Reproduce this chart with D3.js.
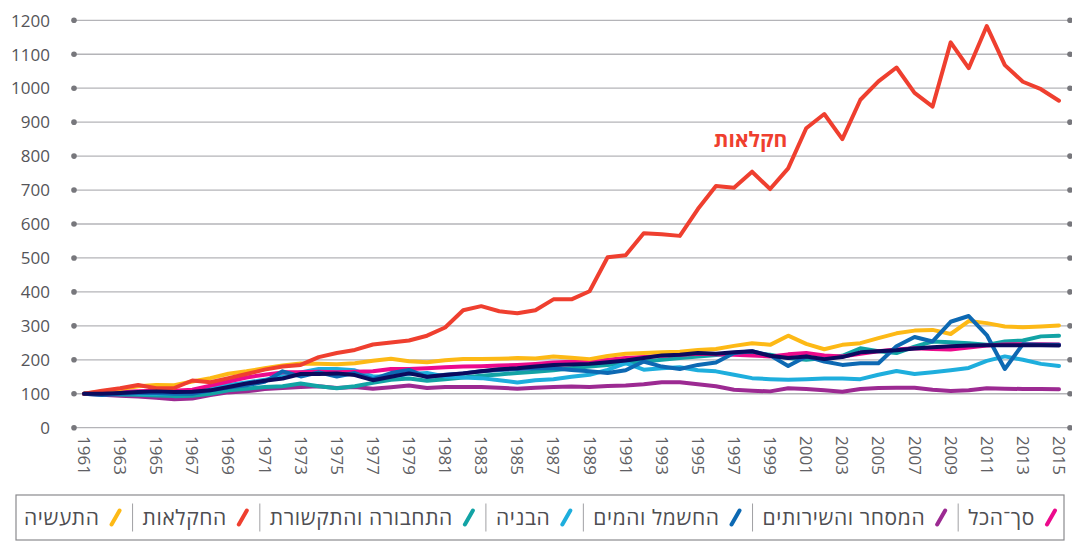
<!DOCTYPE html>
<html lang="he">
<head>
<meta charset="utf-8">
<script src="https://cdn.jsdelivr.net/npm/d3@7/dist/d3.min.js"></script>
<style>
  html, body { margin: 0; padding: 0; background: #fff; }
  svg { display: block; font-family: "Open Sans", "Liberation Sans", "DejaVu Sans", sans-serif; }
</style>
</head>
<body>
<svg id="chart" width="1072" height="545"></svg>
<script>
// Index of output by industry, 1961 = 100
const years = d3.range(1961, 2016);
const yTicks = [0, 100, 200, 300, 400, 500, 600, 700, 800, 900, 1000, 1100, 1200];

const agriculture = [100, 109, 116, 126, 116, 117, 139, 134, 146, 158,
  171, 180, 185, 208, 220, 229, 245, 251, 257, 271,
  295, 346, 358, 343, 337, 346, 378, 378, 402, 502,
  508, 573, 570, 565, 644, 712, 707, 754, 703, 764,
  882, 924, 850, 966, 1020, 1061, 986, 946, 1135, 1059,
  1183, 1068, 1019, 997, 963];
const industry = [100, 107, 114, 122, 126, 125, 136, 146, 159, 166,
  175, 183, 189, 188, 187, 190, 197, 203, 196, 193,
  199, 202, 202, 203, 205, 204, 210, 206, 202, 211,
  218, 220, 222, 224, 229, 232, 241, 249, 244, 271,
  247, 231, 244, 249, 264, 278, 286, 288, 276, 314,
  308, 298, 296, 298, 301];
const total = [100, 104, 106, 107, 109, 109, 112, 124, 136, 148,
  156, 163, 163, 165, 163, 165, 166, 173, 173, 175,
  178, 180, 181, 183, 185, 188, 192, 194, 195, 200,
  205, 208, 212, 215, 218, 216, 215, 213, 210, 216,
  220, 213, 210, 218, 225, 230, 234, 232, 230, 236,
  242, 245, 246, 246, 245];
const trade = [100, 97, 94, 92, 88, 84, 86, 96, 104, 107,
  114, 117, 120, 122, 117, 120, 115, 119, 124, 117,
  120, 120, 120, 118, 115, 118, 120, 121, 120, 123,
  124, 128, 134, 134, 128, 122, 112, 109, 107, 116,
  114, 110, 106, 114, 117, 118, 118, 112, 108, 110,
  116, 115, 114, 114, 113];
const construction = [100, 100, 102, 101, 100, 100, 104, 117, 126, 133,
  141, 153, 163, 173, 173, 169, 151, 151, 158, 161,
  151, 148, 146, 140, 133, 140, 143, 150, 156, 170,
  190, 171, 175, 178, 169, 166, 156, 146, 143, 141,
  143, 145, 145, 143, 156, 167, 158, 163, 169, 176,
  197, 210, 200, 188, 182];
const electricity = [100, 96, 100, 102, 102, 100, 100, 110, 118, 125,
  135, 166, 151, 163, 151, 161, 143, 161, 170, 149,
  156, 160, 166, 170, 173, 175, 175, 170, 166, 161,
  169, 195, 180, 173, 185, 192, 220, 225, 213, 182,
  210, 195, 185, 190, 190, 240, 267, 254, 312, 329,
  273, 173, 246, 244, 244];
const transport = [100, 100, 98, 97, 95, 93, 94, 100, 110, 115,
  120, 122, 130, 122, 116, 122, 132, 141, 145, 138,
  143, 148, 153, 157, 161, 165, 169, 175, 180, 185,
  190, 195, 200, 205, 210, 214, 218, 218, 215, 205,
  200, 205, 212, 234, 225, 220, 239, 254, 252, 249,
  244, 254, 257, 269, 271];
const business = [100, 100, 102, 105, 107, 105, 106, 110, 120, 130,
  138, 145, 158, 158, 160, 155, 140, 150, 160, 150,
  155, 160, 166, 172, 175, 180, 185, 186, 188, 193,
  198, 205, 213, 215, 220, 218, 222, 225, 212, 205,
  210, 202, 208, 222, 225, 228, 233, 237, 240, 242,
  243, 243, 243, 243, 242];

// drawing order: later series sit on top
const series = [
  { name: "המסחר והשירותים", values: trade, color: "#9c2a92" },
  { name: "התחבורה והתקשורת", values: transport, color: "#12a3a5" },
  { name: "הבניה", values: construction, color: "#1eaedd" },
  { name: "סך־הכל", values: total, color: "#ec0a8c" },
  { name: "התעשיה", values: industry, color: "#fdb916" },
  { name: "החשמל והמים", values: electricity, color: "#0d69b3" },
  { name: "החקלאות", values: agriculture, color: "#ef3f2f" },
  { name: "שירותים עסקיים", values: business, color: "#0b0b5e" }
];
// legend order, right to left
const legendOrder = ["סך־הכל", "המסחר והשירותים", "החשמל והמים", "הבניה",
  "התחבורה והתקשורת", "החקלאות", "התעשיה"];

const svg = d3.select("#chart");
const x = d3.scaleLinear().domain([1961, 2015]).range([84, 1059]);
const y = d3.scaleLinear().domain([0, 1200]).range([427.7, 20.3]);
const gridLeft = 74, gridRight = 1070;

// horizontal gridlines with end dots
const grid = svg.append("g");
yTicks.forEach(t => {
  grid.append("line")
    .attr("x1", gridLeft).attr("x2", gridRight)
    .attr("y1", y(t)).attr("y2", y(t))
    .attr("stroke", "#b4b4b8").attr("stroke-width", 1.3);
  [gridLeft, gridRight].forEach(cx => grid.append("circle")
    .attr("cx", cx).attr("cy", y(t)).attr("r", 2.8).attr("fill", "#77777c"));
});

// y axis labels
const yAxis = d3.axisLeft(y).tickValues(yTicks).tickFormat(d3.format("d"))
  .tickSize(0).tickPadding(0);
const yg = svg.append("g").attr("transform", "translate(50,0)").call(yAxis);
yg.select(".domain").remove();
yg.selectAll("text").attr("font-size", 17).attr("fill", "#555559")
  .attr("font-family", "\"Open Sans\", sans-serif").attr("dy", "0.34em");

// x axis labels, odd years, rotated
const xAxis = d3.axisBottom(x).tickValues(years.filter(d => d % 2 === 1))
  .tickFormat(d3.format("d")).tickSize(0).tickPadding(0);
const xg = svg.append("g").attr("transform", "translate(0,436)").call(xAxis);
xg.select(".domain").remove();
xg.selectAll("text")
  .attr("font-size", 17).attr("fill", "#606064")
  .attr("font-family", "\"Open Sans\", sans-serif")
  .attr("text-anchor", "start")
  .attr("transform", "rotate(90)")
  .attr("x", 0).attr("y", 0).attr("dy", null)
  .attr("dominant-baseline", "central");

// lines
const line = d3.line().x((d, i) => x(years[i])).y(d => y(d));
svg.append("g").selectAll("path").data(series).join("path")
  .attr("d", s => line(s.values))
  .attr("fill", "none")
  .attr("stroke", s => s.color)
  .attr("stroke-width", 4)
  .attr("stroke-linejoin", "round")
  .attr("stroke-linecap", "round");

// label for agriculture series
svg.append("text")
  .attr("x", x(1999.95)).attr("y", y(826))
  .attr("text-anchor", "end")
  .attr("font-size", 21).attr("font-weight", "bold")
  .attr("fill", "#ef3f2f")
  .text("חקלאות");

// legend
const lg = svg.append("g");
const boxLeft = 16, boxRight = 1064, boxTop = 495, boxBottom = 540;
lg.append("rect").attr("x", boxLeft).attr("y", boxTop)
  .attr("width", boxRight - boxLeft).attr("height", boxBottom - boxTop)
  .attr("fill", "#fff").attr("stroke", "#8a8a8e").attr("stroke-width", 1.2);
const midY = (boxTop + boxBottom) / 2;
let cursor = boxRight;
legendOrder.forEach((name, i) => {
  const s = series.find(d => d.name === name);
  const slashX = cursor - 13;
  lg.append("line")
    .attr("x1", slashX - 4).attr("y1", midY + 7)
    .attr("x2", slashX + 4).attr("y2", midY - 7)
    .attr("stroke", s.color).attr("stroke-width", 4).attr("stroke-linecap", "round");
  const t = lg.append("text")
    .attr("x", slashX - 16).attr("y", midY)
    .attr("dy", "0.36em")
    .attr("text-anchor", "end")
    .attr("font-size", 21).attr("fill", "#4e4e52")
    .attr("letter-spacing", 0.6)
    .text(name);
  const w = t.node().getComputedTextLength();
  const sepX = slashX - 16 - w - 10;
  if (i < legendOrder.length - 1) {
    lg.append("line")
      .attr("x1", sepX).attr("x2", sepX)
      .attr("y1", midY - 14).attr("y2", midY + 14)
      .attr("stroke", "#a0a0a4").attr("stroke-width", 1);
  }
  cursor = sepX - 4;
});
</script>
</body>
</html>
